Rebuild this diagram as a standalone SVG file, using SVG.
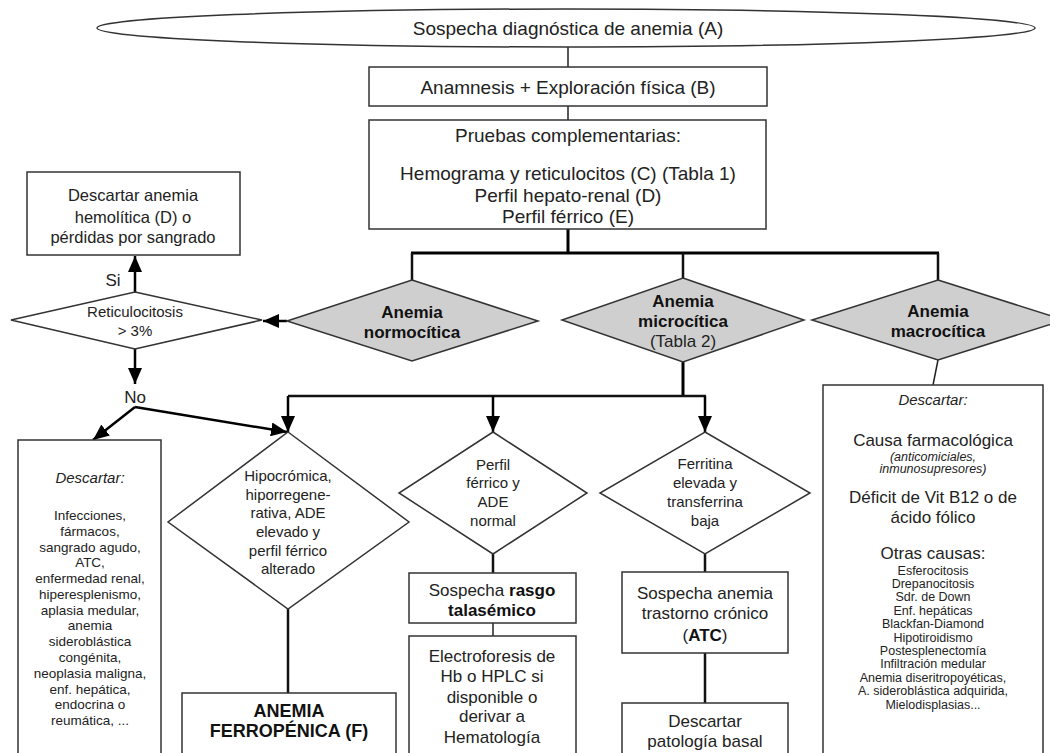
<svg xmlns="http://www.w3.org/2000/svg" width="1050" height="753" viewBox="0 0 1050 753">
<defs>
<marker id="arr" markerUnits="userSpaceOnUse" markerWidth="16" markerHeight="14" refX="16" refY="7" orient="auto">
<path d="M0,0 L16,7 L0,14 z" fill="#000"/>
</marker>
<style>
.box{fill:#fff;stroke:#333;stroke-width:1.5}
.dia{fill:#fff;stroke:#333;stroke-width:1.5}
.gdia{fill:#cfcfcf;stroke:#333;stroke-width:1.5}
text{font-family:"Liberation Sans",Arial,sans-serif;fill:#222;text-anchor:middle}
.t19{font-size:19px}
.t17{font-size:17px}
.t16{font-size:16.5px}
.t15{font-size:15px}
.t14{font-size:13.5px}
.t13{font-size:12.5px}
.b{font-weight:bold;fill:#111}
.i{font-style:italic}
.thin{fill:none;stroke:#222;stroke-width:1.5}
.thick{fill:none;stroke:#000;stroke-width:3}
.arr{fill:none;stroke:#000;stroke-width:2.5;marker-end:url(#arr)}
.ln{fill:none;stroke:#111;stroke-width:2.5}
</style>
</defs>
<g id="connectors">
<path class="thin" d="M568,47 V67 M568,106 V120"/>
<path class="thick" d="M568,229 V253 M411,253 H939"/>
<path class="ln" d="M412,253 V280 M683,253 V278 M938,253 V280"/>
<path class="arr" d="M287,321 H263"/>
<path class="arr" d="M135,292 V256"/>
<path class="arr" d="M135,349 V384"/>
<path class="arr" d="M135,407 L93,440"/>
<path class="arr" d="M135,407 L287,432"/>
<path class="thick" d="M683,362 V396"/>
<path class="ln" d="M288,396 H706"/>
<path class="arr" d="M288,396 V432"/>
<path class="arr" d="M493,396 V432"/>
<path class="arr" d="M705,396 V432"/>
<path class="ln" d="M288,609 V693"/>
<path class="ln" d="M493,554 V573"/>
<path class="thin" d="M493,623 V636"/>
<path class="ln" d="M705,554 V572 M705,653 V703"/>
<path class="thin" d="M938,360 L933,385"/>
<text class="t17" x="113" y="286">Si</text>
<text class="t17" x="135" y="403">No</text>
</g>
<g id="nA">
<ellipse class="box" cx="566" cy="28" rx="469" ry="19"/>
<text class="t19" x="568" y="35">Sospecha diagnóstica de anemia (A)</text>
</g>
<g id="nB">
<rect class="box" x="369" y="67" width="398" height="39"/>
<text class="t19" x="568" y="94">Anamnesis + Exploración física (B)</text>
</g>
<g id="nPruebas">
<rect class="box" x="369" y="120" width="397" height="109"/>
<text class="t19" x="568" y="142">Pruebas complementarias:</text>
<text class="t19" x="568" y="180">Hemograma y reticulocitos (C) (Tabla 1)</text>
<text class="t19" x="568" y="202">Perfil hepato-renal (D)</text>
<text class="t19" x="568" y="223">Perfil férrico (E)</text>
</g>
<g id="nHemolitica">
<rect class="box" x="27" y="172" width="213" height="83"/>
<text class="t16" x="133" y="201">Descartar anemia</text>
<text class="t16" x="133" y="223">hemolítica (D) o</text>
<text class="t16" x="133" y="243">pérdidas por sangrado</text>
</g>
<g id="nReticulocitosis">
<polygon class="dia" points="135,292 262,320 135,349 11,320"/>
<text class="t15" x="135" y="317">Reticulocitosis</text>
<text class="t15" x="135" y="336">&gt; 3%</text>
</g>
<g id="nNormo">
<polygon class="gdia" points="412,280 538,321 412,361 287,321"/>
<text class="t17 b" x="412" y="318">Anemia</text>
<text class="t17 b" x="412" y="338">normocítica</text>
</g>
<g id="nMicro">
<polygon class="gdia" points="683,278 804,320 683,362 562,320"/>
<text class="t17 b" x="683" y="307">Anemia</text>
<text class="t17 b" x="683" y="327">microcítica</text>
<text class="t17" x="683" y="347">(Tabla 2)</text>
</g>
<g id="nMacro">
<polygon class="gdia" points="938,280 1064,320 938,360 812,320"/>
<text class="t17 b" x="938" y="317">Anemia</text>
<text class="t17 b" x="938" y="337">macrocítica</text>
</g>
<g id="nDescartarIzq">
<rect class="box" x="18" y="440" width="143" height="330"/>
<text class="t15 i" x="90" y="483">Descartar:</text>
<g class="t14">
<text x="90" y="520">Infecciones,</text>
<text x="90" y="535.8">fármacos,</text>
<text x="90" y="551.5">sangrado agudo,</text>
<text x="90" y="567.3">ATC,</text>
<text x="90" y="583.1">enfermedad renal,</text>
<text x="90" y="598.9">hiperesplenismo,</text>
<text x="90" y="614.6">aplasia medular,</text>
<text x="90" y="630.4">anemia</text>
<text x="90" y="646.2">sideroblástica</text>
<text x="90" y="661.9">congénita,</text>
<text x="90" y="677.7">neoplasia maligna,</text>
<text x="90" y="693.5">enf. hepática,</text>
<text x="90" y="709.2">endocrina o</text>
<text x="90" y="725">reumática, ...</text>
</g>
</g>
<g id="nHipocromica">
<polygon class="dia" points="288,432 409,522 288,609 168,522"/>
<text class="t15" x="288" y="481">Hipocrómica,</text>
<text class="t15" x="288" y="500">hiporregene-</text>
<text class="t15" x="288" y="518">rativa, ADE</text>
<text class="t15" x="288" y="537">elevado y</text>
<text class="t15" x="288" y="556">perfil férrico</text>
<text class="t15" x="288" y="574">alterado</text>
</g>
<g id="nFerropenica">
<rect class="box" x="182" y="693" width="214" height="80"/>
<text class="b" style="font-size:18px" x="289" y="717">ANEMIA</text>
<text class="b" style="font-size:18px" x="289" y="737">FERROPÉNICA (F)</text>
</g>
<g id="nPerfil">
<polygon class="dia" points="493,432 587,493 493,554 399,493"/>
<text class="t15" x="493" y="470">Perfil</text>
<text class="t15" x="493" y="488">férrico y</text>
<text class="t15" x="493" y="507">ADE</text>
<text class="t15" x="493" y="526">normal</text>
</g>
<g id="nRasgo">
<rect class="box" x="409" y="573" width="167" height="50"/>
<text class="t17" x="492" y="596">Sospecha <tspan class="b">rasgo</tspan></text>
<text class="t17 b" x="492" y="616">talasémico</text>
</g>
<g id="nElectro">
<rect class="box" x="409" y="636" width="167" height="140"/>
<text class="t17" x="492" y="662">Electroforesis de</text>
<text class="t17" x="492" y="682">Hb o HPLC si</text>
<text class="t17" x="492" y="703">disponible o</text>
<text class="t17" x="492" y="722">derivar a</text>
<text class="t17" x="492" y="743">Hematología</text>
</g>
<g id="nFerritina">
<polygon class="dia" points="705,432 810,493 705,554 600,493"/>
<text class="t15" x="705" y="469">Ferritina</text>
<text class="t15" x="705" y="488">elevada y</text>
<text class="t15" x="705" y="507">transferrina</text>
<text class="t15" x="705" y="526">baja</text>
</g>
<g id="nATC">
<rect class="box" x="622" y="572" width="166" height="81"/>
<text class="t17" x="705" y="599">Sospecha anemia</text>
<text class="t17" x="705" y="619">trastorno crónico</text>
<text class="t17" x="705" y="641">(<tspan class="b">ATC</tspan>)</text>
</g>
<g id="nBasal">
<rect class="box" x="622" y="703" width="166" height="70"/>
<text class="t17" x="705" y="727">Descartar</text>
<text class="t17" x="705" y="747">patología basal</text>
</g>
<g id="nDescartarDer">
<rect class="box" x="823" y="385" width="220" height="390"/>
<text class="t15 i" x="933" y="405">Descartar:</text>
<text class="t17" x="933" y="446">Causa farmacológica</text>
<text class="t13 i" x="933" y="461">(anticomiciales,</text>
<text class="t13 i" x="933" y="473">inmunosupresores)</text>
<text class="t17" x="933" y="503">Déficit de Vit B12 o de</text>
<text class="t17" x="933" y="523">ácido fólico</text>
<text class="t17" x="933" y="559">Otras causas:</text>
<g class="t13">
<text x="933" y="574.5">Esferocitosis</text>
<text x="933" y="587.9">Drepanocitosis</text>
<text x="933" y="601.3">Sdr. de Down</text>
<text x="933" y="614.7">Enf. hepáticas</text>
<text x="933" y="628.1">Blackfan-Diamond</text>
<text x="933" y="641.5">Hipotiroidismo</text>
<text x="933" y="654.9">Postesplenectomía</text>
<text x="933" y="668.3">Infiltración medular</text>
<text x="933" y="681.7">Anemia diseritropoyéticas,</text>
<text x="933" y="695.1">A. sideroblástica adquirida,</text>
<text x="933" y="708.5">Mielodisplasias...</text>
</g>
</g>
</svg>
